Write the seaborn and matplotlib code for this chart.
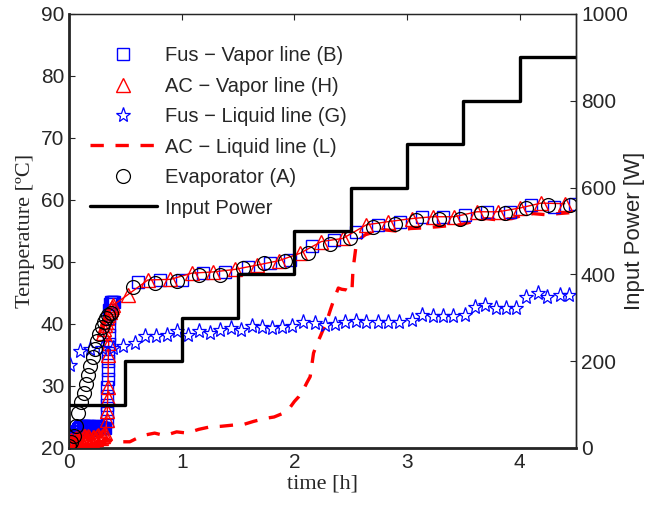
import numpy as np
import pandas as pd
import matplotlib
matplotlib.use("Agg")
import matplotlib.pyplot as plt
from matplotlib.lines import Line2D
import seaborn as sns

# Evaporator (A)
t_evap = [0.00, 0.02, 0.04, 0.06, 0.08, 0.11, 0.13, 0.15, 0.17, 0.19, 0.21, 0.23, 0.25, 0.27, 0.29, 0.31, 0.33, 0.35, 0.37,
          0.57, 0.76, 0.955, 1.15, 1.34, 1.54, 1.73, 1.92, 2.12, 2.32, 2.49, 2.70, 2.89, 3.08, 3.28, 3.47, 3.66, 3.87, 4.06, 4.25, 4.45]
T_evap = [20.3, 21.0, 22.0, 23.6, 25.6, 27.4, 28.8, 30.4, 31.8, 33.2, 34.6, 35.9, 37.2, 38.4, 39.5, 40.4, 41.0, 41.5, 41.8,
          46.0, 46.6, 46.9, 47.9, 47.9, 49.1, 49.8, 50.1, 51.4, 52.9, 53.8, 55.7, 56.2, 56.7, 56.9, 57.0, 57.9, 57.9, 58.7, 59.2, 59.2]

# early dense sampling times (first ~20 min)
t_early = [0.00, 0.01, 0.02, 0.03, 0.04, 0.05, 0.06, 0.07, 0.08, 0.09, 0.10, 0.11, 0.12, 0.13, 0.14, 0.15, 0.16,
           0.17, 0.18, 0.19, 0.20, 0.21, 0.22, 0.23, 0.24, 0.25, 0.26, 0.27, 0.28, 0.29, 0.30, 0.31, 0.32]

# Fus - Vapor line (B)
t_fus_vap = t_early + [0.333, 0.335, 0.337, 0.339, 0.341, 0.343, 0.345, 0.347, 0.349, 0.351, 0.353, 0.355, 0.357, 0.359,
                       0.36, 0.37, 0.38, 0.39, 0.40,
                       0.61, 0.81, 1.00, 1.19, 1.38, 1.59, 1.78, 1.96, 2.16, 2.35, 2.55, 2.745, 2.94, 3.13, 3.32, 3.51,
                       3.71, 3.91, 4.10, 4.30, 4.49]
T_fus_vap = [21.0, 21.2, 21.5, 21.8, 22.0, 22.3, 22.5, 22.8, 23.0, 23.2, 23.4, 23.5, 23.6, 23.5, 23.5, 23.4, 23.5,
             23.4, 23.5, 23.4, 23.3, 23.1, 22.9, 23.2, 23.4, 23.5, 23.5, 23.4, 23.4, 23.3, 23.3, 23.2, 23.2,
             24.3, 25.6, 27.0, 28.4, 29.8, 31.2, 32.6, 34.0, 35.4, 36.8, 38.2, 39.6, 41.0, 42.3,
             43.2, 43.5, 43.6, 43.5, 43.6,
             46.8, 47.1, 47.1, 48.2, 48.4, 49.2, 49.8, 50.3, 52.5, 53.6, 54.9, 56.0, 56.5, 57.3, 57.3, 57.6,
             58.1, 58.1, 59.2, 58.9, 59.4]

# AC - Vapor line (H)
t_ac_vap = t_early + [0.335, 0.34, 0.343, 0.346, 0.349, 0.352,
                      0.30, 0.31, 0.32, 0.33, 0.34, 0.35, 0.36, 0.37, 0.38, 0.39,
                      0.52, 0.70, 0.90, 1.09, 1.28, 1.47, 1.67, 1.86, 2.05, 2.24, 2.43, 2.64, 2.83, 3.04, 3.23,
                      3.42, 3.62, 3.81, 4.00, 4.19, 4.40]
T_ac_vap = [20.6, 21.0, 21.3, 20.9, 21.0, 21.5, 21.6, 21.2, 21.4, 21.8, 21.5, 21.3, 21.4, 21.9, 22.0, 21.6, 21.5,
            21.9, 21.8, 21.4, 21.3, 21.7, 21.8, 21.5, 21.5, 21.9, 22.1, 21.7, 21.6, 21.9, 22.0, 22.2, 22.4,
            24.5, 25.9, 28.0, 29.9, 35.0, 37.0,
            38.5, 39.2, 39.8, 40.4, 41.0, 41.5, 42.0, 42.4, 42.8, 43.0,
            44.7, 47.1, 47.2, 48.2, 48.4, 48.8, 49.5, 50.2, 51.4, 53.3, 53.8, 56.0, 56.5, 57.0, 57.3,
            57.3, 58.1, 58.1, 58.7, 59.5, 59.4]

# Fus - Liquid line (G)
t_fus_liq = [0.01, 0.10, 0.19, 0.29, 0.39, 0.48, 0.585, 0.67, 0.77, 0.87, 0.955, 1.06, 1.15, 1.25, 1.34, 1.44,
             1.53, 1.62, 1.71, 1.80, 1.89, 1.98, 2.08, 2.18, 2.27, 2.36, 2.45, 2.55, 2.64, 2.74, 2.83, 2.93,
             3.04, 3.13, 3.23, 3.32, 3.41, 3.51, 3.60, 3.69, 3.79, 3.88, 3.97, 4.06, 4.16, 4.24, 4.36, 4.44]
T_fus_liq = [33.4, 35.7, 36.0, 36.1, 36.2, 36.4, 36.9, 38.0, 38.0, 38.2, 38.8, 38.2, 38.8, 38.6, 39.0, 39.3,
             39.1, 39.6, 39.5, 39.4, 39.5, 39.6, 40.4, 40.2, 39.9, 40.0, 40.3, 40.5, 40.4, 40.4, 40.4, 40.4,
             40.7, 41.4, 41.3, 41.3, 41.3, 41.5, 42.8, 43.1, 42.5, 42.5, 42.5, 44.4, 45.0, 44.4, 44.7, 44.7]

# AC - Liquid line (L)
t_ac_liq = [0.00, 0.03, 0.06, 0.09, 0.12, 0.15, 0.18, 0.21, 0.24, 0.27, 0.30, 0.33, 0.36,
            0.45, 0.54, 0.65, 0.76, 0.85, 0.955, 1.05, 1.15, 1.25, 1.35, 1.46, 1.55, 1.64, 1.75, 1.82, 1.90, 1.96,
            2.00, 2.04, 2.08, 2.11, 2.14, 2.17, 2.20, 2.23, 2.26, 2.29, 2.32, 2.35, 2.39, 2.42, 2.46, 2.51, 2.52,
            2.55, 2.60, 2.63, 2.70, 2.79, 2.90, 3.03, 3.15, 3.28, 3.40, 3.47, 3.60, 3.70, 3.80, 3.93, 4.02, 4.12,
            4.25, 4.34, 4.48]
T_ac_liq = [20.5, 21.2, 20.8, 21.5, 21.0, 21.8, 21.2, 22.0, 21.3, 21.7, 21.0, 21.6, 21.2,
            21.0, 21.0, 22.0, 22.4, 22.0, 22.6, 22.4, 23.0, 23.4, 23.5, 23.7, 23.8, 24.3, 24.8, 25.0, 25.6, 26.5,
            27.5, 28.3, 29.4, 30.5, 31.5, 35.3, 36.8, 38.0, 39.3, 40.6, 42.3, 43.9, 45.8, 45.6, 45.5, 45.0, 48.7,
            53.0, 54.0, 54.4, 54.8, 55.2, 55.0, 55.4, 55.5, 55.7, 55.9, 56.0, 56.6, 57.0, 56.8, 57.0, 57.5, 57.8,
            57.6, 57.8, 58.0]

# Input power steps
t_power = [0.0, 0.5, 1.0, 1.5, 2.0, 2.5, 3.0, 3.5, 4.0, 4.5]
p_power = [100, 200, 300, 400, 500, 600, 700, 800, 900, 900]

labels = ["Fus \u2212 Vapor line (B)", "AC \u2212 Vapor line (H)", "Fus \u2212 Liquid line (G)",
          "AC \u2212 Liquid line (L)", "Evaporator (A)", "Input Power"]

sns.set_style("white")
plt.rcParams["font.family"] = ["Liberation Sans", "DejaVu Sans"]

fig = plt.figure(figsize=(6.48, 5.07), dpi=100)
ax = fig.add_axes([0.1065, 0.1164, 0.7825, 0.856])

# temperature series
sns.lineplot(x=t_ac_liq, y=T_ac_liq, ax=ax, color="red", lw=2.4, estimator=None, sort=False,
             linestyle=(0, (4, 3.5)), zorder=2)
sns.lineplot(x=t_fus_vap, y=T_fus_vap, ax=ax, color="blue", lw=0, marker="s", markersize=8,
             markerfacecolor="none", markeredgecolor="blue", markeredgewidth=1.0,
             estimator=None, sort=False, zorder=3)
sns.lineplot(x=t_ac_vap, y=T_ac_vap, ax=ax, color="red", lw=1.0, marker="^", markersize=10,
             markerfacecolor="none", markeredgecolor="red", markeredgewidth=1.0,
             estimator=None, sort=False, zorder=4)
sns.lineplot(x=t_fus_liq, y=T_fus_liq, ax=ax, color="blue", lw=0, marker="*", markersize=11,
             markerfacecolor="none", markeredgecolor="blue", markeredgewidth=0.9,
             estimator=None, sort=False, zorder=4)
sns.lineplot(x=t_evap, y=T_evap, ax=ax, color="black", lw=0, marker="o", markersize=10,
             markerfacecolor="none", markeredgecolor="black", markeredgewidth=0.9,
             estimator=None, sort=False, zorder=5)

ax.set_xlim(0, 4.5)
ax.set_ylim(20, 90)
ax.set_xticks([0, 1, 2, 3, 4])
ax.set_yticks(range(20, 91, 10))
ax.tick_params(direction="in", length=4, labelsize=15, top=True, right=False, width=0.8)
ax.set_xlabel("time [h]", family="Liberation Serif", fontsize=16, labelpad=2)
ax.set_ylabel("Temperature [\u00baC]", family="Liberation Serif", fontsize=16, labelpad=4)
for side in ["bottom", "left"]:
    ax.spines[side].set_linewidth(2.0)
for side in ["top", "right"]:
    ax.spines[side].set_linewidth(1.0)

# power on right axis
ax2 = ax.twinx()
sns.lineplot(x=t_power, y=p_power, ax=ax2, color="black", lw=2.4, drawstyle="steps-post",
             estimator=None, sort=False)
ax2.set_ylim(0, 1000)
ax2.set_yticks(range(0, 1001, 200))
ax2.tick_params(direction="in", length=4, labelsize=15, width=0.8)
ax2.set_ylabel("Input Power [W]", fontsize=16)
ax2.yaxis.set_label_coords(1.094, 0.5)
ax2.spines["right"].set_linewidth(1.0)

handles = [
    Line2D([], [], ls="none", marker="s", ms=8, mfc="none", mec="blue", mew=1.0),
    Line2D([], [], ls="none", marker="^", ms=10, mfc="none", mec="red", mew=1.0),
    Line2D([], [], ls="none", marker="*", ms=11, mfc="none", mec="blue", mew=0.9),
    Line2D([], [], color="red", lw=2.4, ls=(0, (4, 3.5))),
    Line2D([], [], ls="none", marker="o", ms=10, mfc="none", mec="black", mew=0.9),
    Line2D([], [], color="black", lw=2.4),
]
ax2.legend(handles, labels, loc="upper left", bbox_to_anchor=(0.041, 0.926), frameon=False,
           fontsize=14.5, handlelength=3.33, handletextpad=0.4, labelspacing=0.57,
           borderpad=0, borderaxespad=0)

fig.savefig("out.png", dpi=100)
